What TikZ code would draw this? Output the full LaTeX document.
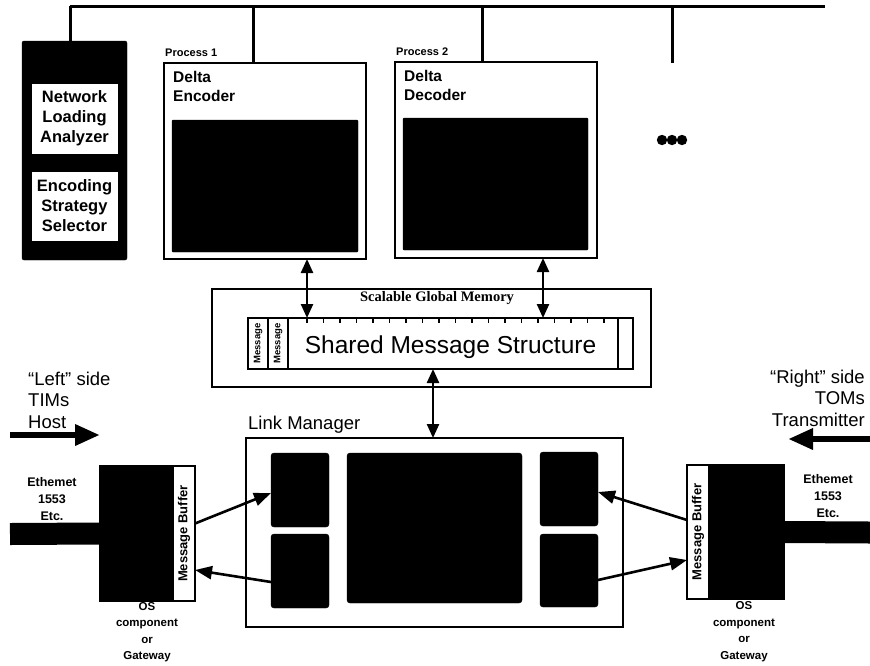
\documentclass[tikz,border=0pt]{standalone}
\usepackage{fontspec}
\setmainfont{Liberation Sans}
\newfontfamily\memfont{Liberation Serif}
\usetikzlibrary{arrows.meta, positioning}

\begin{document}
\begin{tikzpicture}[x=1pt, y=-1pt,
        box/.style={draw, line width=2.5pt, fill=white, inner sep=0pt, outer sep=0pt},
        blackbox/.style={draw, fill=black, rounded corners=3pt, inner sep=0pt, outer sep=0pt},
        txt/.style={inner sep=0pt, align=center, font=\bfseries\fontsize{12.5}{17}\selectfont},
        bus/.style={line width=3pt},
        arrow/.style={line width=2.6pt, -{Triangle[length=17pt, width=13pt]}},
        dblarrow/.style={line width=2.4pt, {Triangle[length=14pt, width=12pt]}-{Triangle[length=14pt, width=12pt]}},
        bigarrow/.style={line width=6.5pt, -{Triangle[length=25pt, width=20pt]}},
        cable/.style={line width=22pt}
    ]
    \useasboundingbox[fill=white] (0,0) rectangle (870,665);

    % Bus
    \coordinate (busL) at (70,6);
    \coordinate (busR) at (825,6);
    \coordinate (more) at (672,63);
    \draw[bus] (busL) -- (busR);

    % Controller column
    \node[blackbox, minimum width=105pt, minimum height=219pt, rounded corners=2pt] (ctrl) at (74.5,150.5) {};
    \node[box, line width=0pt, draw=white, minimum width=85pt, minimum height=69pt,
          font=\bfseries\fontsize{16.5}{20}\selectfont, align=center] (nla) at (74.5,118.5)
          {Network\\Loading\\Analyzer};
    \node[box, line width=0pt, draw=white, minimum width=85pt, minimum height=68pt,
          font=\bfseries\fontsize{16.5}{20}\selectfont, align=center] (ess) at (74.5,206)
          {Encoding\\Strategy\\Selector};

    % Processes
    \node[box, minimum width=202pt, minimum height=196pt] (p1) at (265,161) {};
    \node[blackbox, minimum width=186pt, minimum height=132pt, rounded corners=1pt] (p1core) at (265,186) {};
    \node[txt, anchor=south west, font=\bfseries\fontsize{11}{12}\selectfont] (p1label) at (165,57) {Process 1};
    \node[txt, anchor=north west, align=left, font=\bfseries\fontsize{15.5}{19}\selectfont] (p1title) at (173,71) {Delta\\Encoder};

    \node[box, minimum width=202pt, minimum height=196pt] (p2) at (496,160) {};
    \node[blackbox, minimum width=185pt, minimum height=132pt, rounded corners=1pt] (p2core) at (495.5,184) {};
    \node[txt, anchor=south west, font=\bfseries\fontsize{11}{12}\selectfont] (p2label) at (396,56) {Process 2};
    \node[txt, anchor=north west, align=left, font=\bfseries\fontsize{15.5}{19}\selectfont] (p2title) at (404,70) {Delta\\Decoder};

    \draw[bus] ([xshift=-4.5pt]ctrl.north) -- ([xshift=-4.5pt]ctrl.north |- busL);
    \draw[bus] ([xshift=-12pt]p1.north) -- ([xshift=-12pt]p1.north |- busL);
    \draw[bus] ([xshift=-14pt]p2.north) -- ([xshift=-14pt]p2.north |- busL);
    \draw[bus] (more) -- (more |- busL);

    \foreach \x in {662,672,682} \fill (\x,140) circle (5.2pt);

    % Scalable global memory
    \node[box, minimum width=439pt, minimum height=98pt] (sgm) at (431.5,338) {};
    \node[txt, font=\memfont\bfseries\fontsize{14.5}{16}\selectfont] (sgmtitle) at (437,298) {Scalable Global Memory};
    \node[box, line width=1.8pt, minimum width=385pt, minimum height=51pt] (sms) at (440.5,343.5) {};
    \node[draw, line width=1.2pt, minimum width=51pt, minimum height=20pt, inner sep=0pt, rotate=90,
          font=\bfseries\fontsize{9.5}{9}\selectfont] (msg1) at (258,343.5) {Message};
    \node[draw, line width=1.2pt, minimum width=51pt, minimum height=20pt, inner sep=0pt, rotate=90,
          font=\bfseries\fontsize{9.5}{9}\selectfont] (msg2) at (278,343.5) {Message};
    \node[inner sep=0pt, font=\fontsize{24.5}{28}\selectfont] (smstext) at (450.5,347) {Shared Message Structure};
    \draw[line width=1.2pt] (618,318) -- (618,369);
    \foreach \x in {307,323.5,...,606} \draw[line width=1.5pt] (\x,318) -- (\x,323);

    \draw[dblarrow] ([xshift=42pt]p1.south) -- ([xshift=42pt]p1.south |- sms.north);
    \draw[dblarrow] ([xshift=47pt]p2.south) -- ([xshift=47pt]p2.south |- sms.north);

    % Link manager
    \node[box, minimum width=377pt, minimum height=189pt] (link) at (434.5,532.5) {};
    \node[inner sep=0pt, anchor=south west, font=\fontsize{18.5}{20}\selectfont] (linklabel) at (248,434) {Link Manager};
    \node[blackbox, minimum width=58pt, minimum height=74pt] (lm1) at (300,490) {};
    \node[blackbox, minimum width=58pt, minimum height=74pt] (lm2) at (300,571) {};
    \node[blackbox, minimum width=175pt, minimum height=150pt] (lmc) at (434.5,528) {};
    \node[blackbox, minimum width=58pt, minimum height=74pt] (lm3) at (569,489) {};
    \node[blackbox, minimum width=58pt, minimum height=73pt] (lm4) at (569,570.5) {};

    \draw[dblarrow] ([xshift=-7.5pt]sms.south) -- ([xshift=-7.5pt]sms.south |- link.north);

    % Left side
    \node[box, fill=black, minimum width=73pt, minimum height=135pt] (hostL) at (136.5,533.5) {};
    \node[box, minimum width=22pt, minimum height=135pt] (bufL) at (184,533.5) {};
    \node[txt, rotate=90, font=\bfseries\fontsize{13}{13}\selectfont] at (bufL) {Message Buffer};
    \coordinate (wireL) at (10,534);
    \draw[cable] (wireL) -- (hostL.west);
    \node[txt] (ethL) at (52,499) {Ethemet\\1553\\Etc.};
    \node[txt, font=\bfseries\fontsize{11.5}{16.5}\selectfont] (osL) at (147,632) {OS\\component\\or\\Gateway};
    \node[txt, anchor=west, align=left, font=\fontsize{18.5}{21.5}\selectfont] (leftside) at (28,400)
         {``Left'' side\\TIMs\\Host};
    \coordinate (inL) at (10,435);
    \coordinate (inLend) at (100,435);
    \draw[bigarrow] (inL) -- (inLend);

    \draw[arrow] ([yshift=10pt]bufL.east) -- ([yshift=-3pt]lm1.west);
    \draw[arrow] ([yshift=-11pt]lm2.west) -- ([yshift=-36.5pt]bufL.east);

    % Right side
    \node[box, minimum width=22pt, minimum height=134pt] (bufR) at (698,532) {};
    \node[box, fill=black, minimum width=75pt, minimum height=134pt] (hostR) at (746.5,532) {};
    \node[txt, rotate=90, font=\bfseries\fontsize{13}{13}\selectfont] at (bufR) {Message Buffer};
    \coordinate (wireR) at (870,532.5);
    \draw[cable] (hostR.east) -- (wireR);
    \node[txt] (ethR) at (828,496) {Ethemet\\1553\\Etc.};
    \node[txt, font=\bfseries\fontsize{11.5}{16.5}\selectfont] (osR) at (744,631.5) {OS\\component\\or\\Gateway};
    \node[txt, anchor=east, align=right, font=\fontsize{18.5}{21.5}\selectfont] (rightside) at (865,398)
         {``Right'' side\\TOMs\\Transmitter};
    \coordinate (inR) at (870,439);
    \coordinate (inRend) at (788,439);
    \draw[bigarrow] (inR) -- (inRend);

    \draw[arrow] ([yshift=12pt]bufR.west) -- ([yshift=-3pt]lm3.east);
    \draw[arrow] ([yshift=-9.5pt]lm4.east) -- ([yshift=-28pt]bufR.west);

\end{tikzpicture}
\end{document}
